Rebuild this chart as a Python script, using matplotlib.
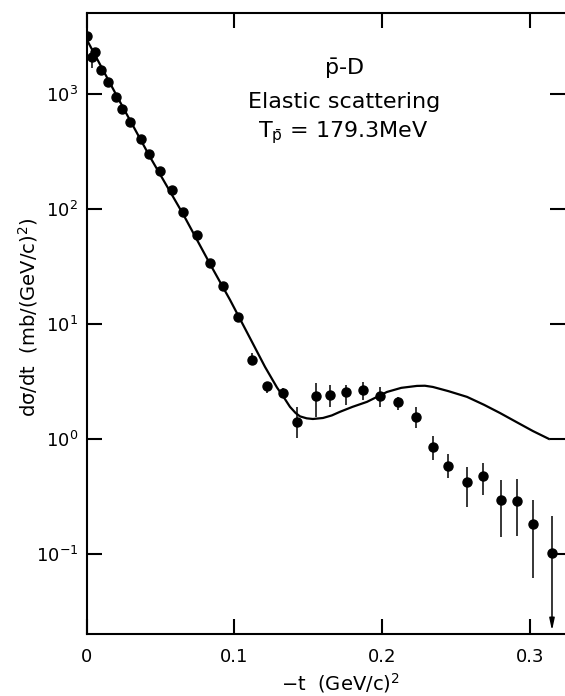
import numpy as np
import matplotlib
matplotlib.use("Agg")
from matplotlib import pyplot as plt
import matplotlib.transforms as mtransforms

# measured points: -t (GeV/c)^2, dsigma/dt (mb/(GeV/c)^2), error bar ends
t_data = [0.0003, 0.0037, 0.0058, 0.0098, 0.0145, 0.0200, 0.0240, 0.0294,
          0.0369, 0.0423, 0.0497, 0.0578, 0.0653, 0.0748, 0.0836, 0.0924,
          0.1025, 0.1120, 0.1221, 0.1330, 0.1424, 0.1553, 0.1648, 0.1756,
          0.1871, 0.1986, 0.2108, 0.2230, 0.2344, 0.2446, 0.2574, 0.2683,
          0.2804, 0.2913, 0.3021, 0.3150]
sig_data = [3195, 2097, 2318, 1617, 1271, 942, 741, 571,
            406, 301, 214, 146, 94.2, 59.4, 33.9, 21.4,
            11.5, 4.86, 2.89, 2.51, 1.41, 2.37, 2.41, 2.56,
            2.67, 2.37, 2.10, 1.55, 0.852, 0.582, 0.423, 0.477,
            0.295, 0.289, 0.182, 0.102]
sig_hi = [3900, 2414, 2318, 1617, 1271, 942, 741, 571,
          406, 301, 214, 146, 97.0, 59.4, 33.9, 21.4,
          12.5, 5.60, 3.13, 2.78, 1.90, 3.07, 2.95, 2.95,
          3.13, 2.83, 2.32, 1.90, 1.06, 0.741, 0.571, 0.618,
          0.440, 0.449, 0.295, 0.214]
sig_lo = [2614, 1683, 2318, 1617, 1271, 942, 741, 571,
          406, 301, 214, 146, 91.0, 59.4, 33.9, 21.4,
          10.4, 4.40, 2.51, 2.27, 1.02, 1.55, 1.90, 1.98,
          2.18, 1.90, 1.79, 1.25, 0.657, 0.458, 0.256, 0.326,
          0.141, 0.143, 0.0618, 0.102]

# theoretical curve
t_curve = [0.0003, 0.0227, 0.0430, 0.0653, 0.0836, 0.0971, 0.1106, 0.1208,
           0.1289, 0.1340, 0.1377, 0.1415, 0.1445, 0.1490, 0.1532, 0.1600,
           0.1660, 0.1715, 0.1800, 0.1898, 0.2033, 0.2130, 0.2236, 0.2290,
           0.2344, 0.2450, 0.2575, 0.2690, 0.2798, 0.2910, 0.3021, 0.3129]
sig_curve = [2951, 852, 283, 90.5, 33.2, 16.2, 7.55, 4.23,
             2.80, 2.25, 1.90, 1.68, 1.57, 1.51, 1.49, 1.52,
             1.60, 1.72, 1.90, 2.10, 2.56, 2.78, 2.89, 2.90,
             2.83, 2.60, 2.32, 1.98, 1.68, 1.40, 1.17, 1.00]

y_ticks = [1e-1, 1e0, 1e1, 1e2, 1e3]
y_labels = [r"$10^{-1}$", r"$10^{0}$", r"$10^{1}$", r"$10^{2}$", r"$10^{3}$"]
x_ticks = [0, 0.1, 0.2, 0.3]
x_labels = ["0", "0.1", "0.2", "0.3"]

plt.rcParams['font.family'] = ['DejaVu Sans']
plt.rcParams['mathtext.fontset'] = 'dejavusans'
plt.rcParams['mathtext.default'] = 'regular'

fig = plt.figure(figsize=(5.65, 6.96), dpi=100)
ax = fig.add_axes([86.5 / 565, 1 - 634 / 696, 1 - 86.5 / 565, (634 - 13) / 696])

ax.set_yscale('log')
ax.set_xlim(0, 0.3238)
ax.set_ylim(0.0201, 5060)

t_arr = np.array(t_data)
s_arr = np.array(sig_data)
err = np.vstack([s_arr - np.array(sig_lo), np.array(sig_hi) - s_arr])
ax.errorbar(t_arr, s_arr, yerr=err, fmt='o', color='black', ms=6.5,
            elinewidth=1.1, capsize=0, zorder=3)
ax.plot(t_curve, sig_curve, color='black', lw=1.6, zorder=2)

# upper limit arrow on the last point
ax.annotate('', xy=(t_data[-1], 0.0215), xytext=(t_data[-1], sig_data[-1]),
            arrowprops=dict(arrowstyle='-|>,head_width=0.15,head_length=0.7',
                            color='black', lw=1.1, shrinkA=0, shrinkB=0))

ax.minorticks_off()
ax.set_yticks(y_ticks)
ax.set_yticklabels(y_labels)
ax.set_xticks(x_ticks)
ax.set_xticklabels(x_labels)
ax.tick_params(direction='in', length=11, width=1.5, labelsize=13,
               top=True, right=True)
ax.tick_params(axis='x', pad=10)
ax.tick_params(axis='y', pad=6)

for side in ['left', 'bottom', 'top']:
    ax.spines[side].set_linewidth(1.5)
ax.spines['right'].set_visible(False)

ax.set_xlabel(r"$-$t  (GeV/c)$^2$", fontsize=14)
ax.xaxis.set_label_coords(0.53, -0.06)
ax.set_ylabel(r"d$\sigma$/dt  (mb/(GeV/c)$^2$)", fontsize=14)
ax.yaxis.set_label_coords(-0.097, 0.51)

# labels: x in data units, y in axes units
blend = mtransforms.blended_transform_factory(ax.transData, ax.transAxes)
ax.text(0.174, 0.900, r"$\bar{p}$-D", transform=blend,
        ha='center', va='baseline', fontsize=16)
ax.text(0.174, 0.847, "Elastic scattering", transform=blend,
        ha='center', va='baseline', fontsize=16)
ax.text(0.174, 0.799, r"T$_{\bar{p}}$ = 179.3MeV", transform=blend,
        ha='center', va='baseline', fontsize=16)

fig.savefig('out.png', dpi=100)
